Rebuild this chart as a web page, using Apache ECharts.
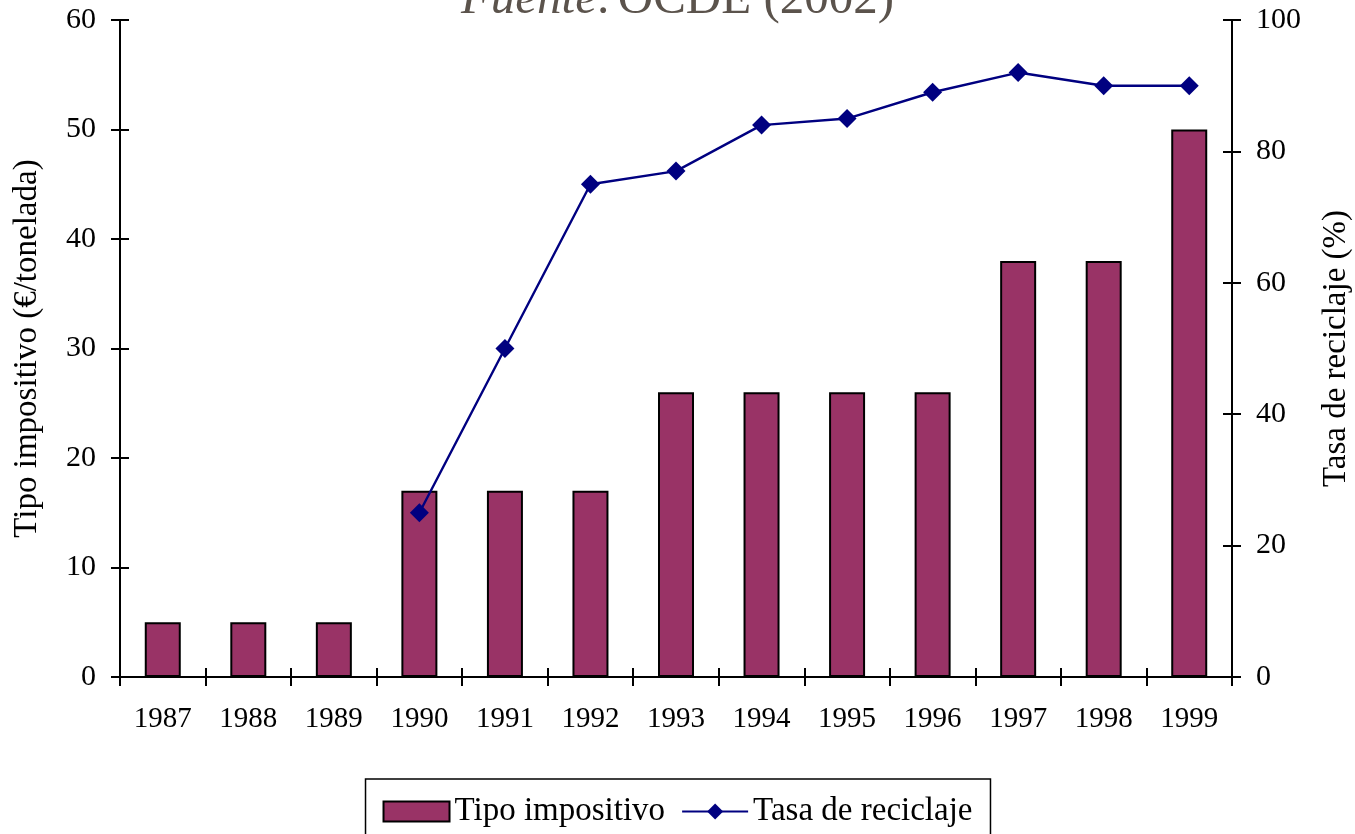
<!DOCTYPE html>
<html>
<head>
    <meta charset="utf-8">
    <title>Tipo impositivo y tasa de reciclaje</title>
    <script src="https://cdn.jsdelivr.net/npm/echarts@6/dist/echarts.min.js"></script>
    <style>
        html, body { margin: 0; padding: 0; background: #fff; }
        #chart { width: 1355px; height: 834px; }
    </style>
</head>
<body>
<div id="chart"></div>
<script type="text/javascript">
    var years = ['1987', '1988', '1989', '1990', '1991', '1992', '1993', '1994', '1995', '1996', '1997', '1998', '1999'];
    var tipoImpositivo = [5, 5, 5, 17, 17, 17, 26, 26, 26, 26, 38, 38, 50];
    var tasaReciclaje = [null, null, null, 25, 50, 75, 77, 84, 85, 89, 92, 90, 90];

    var serif = '"Liberation Serif", "DejaVu Serif", serif';
    var tickStyle = { color: '#000', width: 2 };

    // the original ticks cross the axis line: a second, bare axis draws the inner half
    function innerAxis(extra) {
        return Object.assign({
            axisLine: { show: false },
            axisTick: { show: true, inside: true, length: 9, lineStyle: tickStyle },
            axisLabel: { show: false },
            splitLine: { show: false }
        }, extra);
    }

    var myChart = echarts.init(document.getElementById('chart'));
    var option = {
        animation: false,
        textStyle: { fontFamily: serif },
        title: {
            text: '{i|Fuente:} {n|OCDE (2002)}',
            left: 'center',
            top: -29,
            textStyle: {
                fontWeight: 'normal',
                rich: {
                    i: { fontFamily: serif, fontStyle: 'italic', fontWeight: 'normal', fontSize: 49, color: '#5b534c' },
                    n: { fontFamily: serif, fontWeight: 'normal', fontSize: 49, color: '#5b534c' }
                }
            }
        },
        grid: { left: 120, right: 123, top: 20, bottom: 157, outerBoundsMode: 'none' },
        legend: {
            bottom: -14,
            left: 'center',
            itemGap: 16,
            itemWidth: 66,
            itemHeight: 20,
            padding: [16, 18, 20, 17],
            borderColor: '#000',
            borderWidth: 1.5,
            borderRadius: 0,
            textStyle: { fontFamily: serif, fontSize: 33, color: '#000' },
            data: [
                { name: 'Tipo impositivo', icon: 'rect', itemStyle: { borderColor: '#000', borderWidth: 2 } },
                { name: 'Tasa de reciclaje' }
            ]
        },
        xAxis: [{
            type: 'category',
            data: years,
            axisLine: { lineStyle: { color: '#000', width: 2 } },
            axisTick: { show: true, length: 9, lineStyle: tickStyle },
            axisLabel: { fontFamily: serif, fontSize: 29, color: '#000', margin: 28 }
        }, innerAxis({ type: 'category', data: years, position: 'bottom' })],
        yAxis: [{
            type: 'value',
            min: 0,
            max: 60,
            interval: 10,
            name: 'Tipo impositivo (€/tonelada)',
            nameLocation: 'middle',
            nameGap: 76,
            nameTextStyle: { fontFamily: serif, fontSize: 33, color: '#000' },
            splitLine: { show: false },
            axisLine: { show: true, lineStyle: { color: '#000', width: 2 } },
            axisTick: { show: true, length: 9, lineStyle: tickStyle },
            axisLabel: { fontFamily: serif, fontSize: 30, color: '#000', margin: 24 }
        }, {
            type: 'value',
            min: 0,
            max: 100,
            interval: 20,
            name: 'Tasa de reciclaje (%)',
            nameLocation: 'middle',
            nameGap: 88,
            nameRotate: 90,
            nameTextStyle: { fontFamily: serif, fontSize: 33, color: '#000' },
            splitLine: { show: false },
            axisLine: { show: true, lineStyle: { color: '#000', width: 2 } },
            axisTick: { show: true, length: 9, lineStyle: tickStyle },
            axisLabel: { fontFamily: serif, fontSize: 30, color: '#000', margin: 24 }
        },
        innerAxis({ type: 'value', position: 'left', min: 0, max: 60, interval: 10 }),
        innerAxis({ type: 'value', position: 'right', min: 0, max: 100, interval: 20 })],
        series: [{
            name: 'Tipo impositivo',
            type: 'bar',
            barWidth: 36,
            data: tipoImpositivo,
            itemStyle: { color: '#993366', borderColor: '#000', borderWidth: 2 }
        }, {
            name: 'Tasa de reciclaje',
            type: 'line',
            yAxisIndex: 1,
            data: tasaReciclaje,
            symbol: 'diamond',
            symbolSize: 19,
            connectNulls: false,
            lineStyle: { color: '#000080', width: 2.4 },
            itemStyle: { color: '#000080' }
        }]
    };
    myChart.setOption(option);
</script>
</body>
</html>
